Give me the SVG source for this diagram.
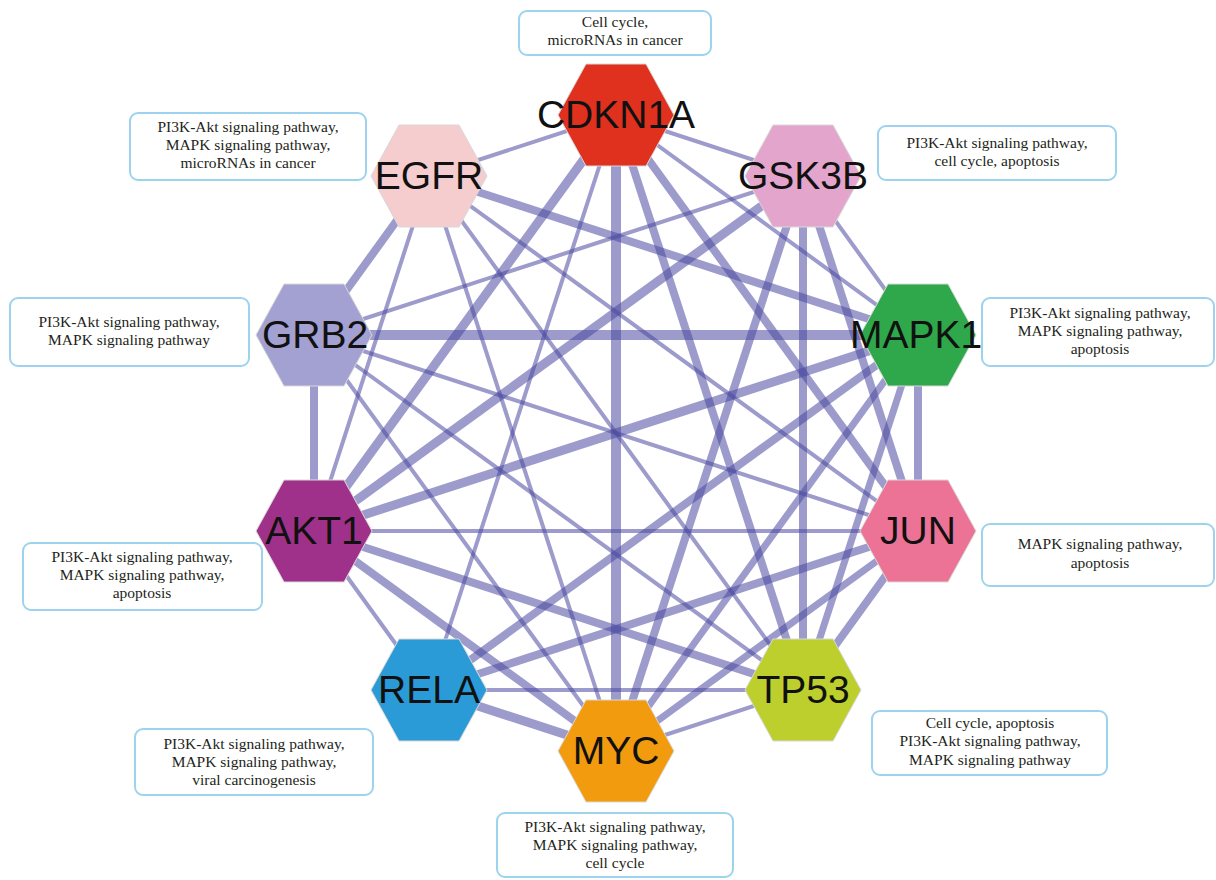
<svg xmlns="http://www.w3.org/2000/svg" width="1216" height="880" viewBox="0 0 1216 880">
<style>
.e{stroke:#4a48a0;stroke-opacity:0.55;fill:none}
.hex{stroke:#d8d8d8;stroke-width:1}
.lbl{font-family:"Liberation Sans",Arial,sans-serif;font-size:39px;fill:#111;text-anchor:middle}
.box{fill:#fff;stroke:#9dd3ec;stroke-width:2}
.bt{font-family:"Liberation Serif","Times New Roman",serif;font-size:15.5px;fill:#231f20;text-anchor:middle}
</style>
<defs>
<polygon id="hx" points="-58,0 -30,-51 30,-51 58,0 30,51 -30,51"/>
</defs>
<rect width="1216" height="880" fill="#fff"/>
<g id="connectors">
<line class="e" x1="616" y1="115" x2="803" y2="176" stroke-width="4"/>
<line class="e" x1="616" y1="115" x2="918" y2="335" stroke-width="4"/>
<line class="e" x1="616" y1="115" x2="918" y2="531" stroke-width="8"/>
<line class="e" x1="616" y1="115" x2="803" y2="690" stroke-width="8"/>
<line class="e" x1="616" y1="115" x2="616" y2="751" stroke-width="10"/>
<line class="e" x1="616" y1="115" x2="429" y2="690" stroke-width="4"/>
<line class="e" x1="616" y1="115" x2="314" y2="531" stroke-width="9"/>
<line class="e" x1="616" y1="115" x2="429" y2="176" stroke-width="4"/>
<line class="e" x1="803" y1="176" x2="918" y2="335" stroke-width="4"/>
<line class="e" x1="803" y1="176" x2="918" y2="531" stroke-width="8"/>
<line class="e" x1="803" y1="176" x2="803" y2="690" stroke-width="8"/>
<line class="e" x1="803" y1="176" x2="616" y2="751" stroke-width="8"/>
<line class="e" x1="803" y1="176" x2="314" y2="531" stroke-width="9"/>
<line class="e" x1="803" y1="176" x2="314" y2="335" stroke-width="4"/>
<line class="e" x1="918" y1="335" x2="918" y2="531" stroke-width="8"/>
<line class="e" x1="918" y1="335" x2="803" y2="690" stroke-width="7"/>
<line class="e" x1="918" y1="335" x2="616" y2="751" stroke-width="7"/>
<line class="e" x1="918" y1="335" x2="429" y2="690" stroke-width="8"/>
<line class="e" x1="918" y1="335" x2="314" y2="531" stroke-width="9"/>
<line class="e" x1="918" y1="335" x2="314" y2="335" stroke-width="10"/>
<line class="e" x1="918" y1="335" x2="429" y2="176" stroke-width="8"/>
<line class="e" x1="918" y1="531" x2="803" y2="690" stroke-width="8"/>
<line class="e" x1="918" y1="531" x2="616" y2="751" stroke-width="7"/>
<line class="e" x1="918" y1="531" x2="429" y2="690" stroke-width="8"/>
<line class="e" x1="918" y1="531" x2="314" y2="531" stroke-width="4"/>
<line class="e" x1="918" y1="531" x2="314" y2="335" stroke-width="4"/>
<line class="e" x1="918" y1="531" x2="429" y2="176" stroke-width="4"/>
<line class="e" x1="803" y1="690" x2="616" y2="751" stroke-width="4"/>
<line class="e" x1="803" y1="690" x2="429" y2="690" stroke-width="4"/>
<line class="e" x1="803" y1="690" x2="314" y2="531" stroke-width="8"/>
<line class="e" x1="803" y1="690" x2="314" y2="335" stroke-width="4"/>
<line class="e" x1="803" y1="690" x2="429" y2="176" stroke-width="4"/>
<line class="e" x1="616" y1="751" x2="429" y2="690" stroke-width="9"/>
<line class="e" x1="616" y1="751" x2="314" y2="531" stroke-width="8"/>
<line class="e" x1="616" y1="751" x2="314" y2="335" stroke-width="4"/>
<line class="e" x1="616" y1="751" x2="429" y2="176" stroke-width="4"/>
<line class="e" x1="429" y1="690" x2="314" y2="531" stroke-width="4"/>
<line class="e" x1="314" y1="531" x2="314" y2="335" stroke-width="8"/>
<line class="e" x1="314" y1="531" x2="429" y2="176" stroke-width="4"/>
<line class="e" x1="314" y1="335" x2="429" y2="176" stroke-width="8"/>
</g>
<g id="node-CDKN1A"><use href="#hx" class="hex" x="616" y="115" fill="#e0301e"/><text class="lbl" x="616" y="128">CDKN1A</text></g>
<g id="node-GSK3B"><use href="#hx" class="hex" x="803" y="176" fill="#e4a5cd"/><text class="lbl" x="803" y="189">GSK3B</text></g>
<g id="node-MAPK1"><use href="#hx" class="hex" x="918" y="335" fill="#2ea84a"/><text class="lbl" x="916" y="348">MAPK1</text></g>
<g id="node-JUN"><use href="#hx" class="hex" x="918" y="531" fill="#ec7395"/><text class="lbl" x="918" y="544">JUN</text></g>
<g id="node-TP53"><use href="#hx" class="hex" x="803" y="690" fill="#bccf2c"/><text class="lbl" x="803" y="703">TP53</text></g>
<g id="node-MYC"><use href="#hx" class="hex" x="616" y="751" fill="#f29b0f"/><text class="lbl" x="616" y="764">MYC</text></g>
<g id="node-RELA"><use href="#hx" class="hex" x="429" y="690" fill="#2a9bd7"/><text class="lbl" x="429" y="703">RELA</text></g>
<g id="node-AKT1"><use href="#hx" class="hex" x="314" y="531" fill="#a0318a"/><text class="lbl" x="314" y="544">AKT1</text></g>
<g id="node-GRB2"><use href="#hx" class="hex" x="314" y="335" fill="#a3a0d2"/><text class="lbl" x="315" y="348">GRB2</text></g>
<g id="node-EGFR"><use href="#hx" class="hex" x="429" y="176" fill="#f5cdce"/><text class="lbl" x="429" y="189">EGFR</text></g>
<g id="note-CDKN1A"><rect class="box" x="519" y="11" width="192" height="44" rx="8"/><text class="bt" x="615" y="27">Cell cycle,</text><text class="bt" x="615" y="45">microRNAs in cancer</text></g>
<g id="note-EGFR"><rect class="box" x="130" y="113" width="236" height="67" rx="8"/><text class="bt" x="248" y="132">PI3K-Akt signaling pathway,</text><text class="bt" x="248" y="150">MAPK signaling pathway,</text><text class="bt" x="248" y="168">microRNAs in cancer</text></g>
<g id="note-GSK3B"><rect class="box" x="878" y="126" width="238" height="54" rx="8"/><text class="bt" x="997" y="148">PI3K-Akt signaling pathway,</text><text class="bt" x="997" y="166">cell cycle, apoptosis</text></g>
<g id="note-MAPK1"><rect class="box" x="982" y="298" width="232" height="68" rx="8"/><text class="bt" x="1100" y="318">PI3K-Akt signaling pathway,</text><text class="bt" x="1100" y="336">MAPK signaling pathway,</text><text class="bt" x="1100" y="354">apoptosis</text></g>
<g id="note-GRB2"><rect class="box" x="10" y="298" width="239" height="68" rx="8"/><text class="bt" x="129" y="327">PI3K-Akt signaling pathway,</text><text class="bt" x="129" y="345">MAPK signaling pathway</text></g>
<g id="note-AKT1"><rect class="box" x="23" y="543" width="239" height="67" rx="8"/><text class="bt" x="142" y="562">PI3K-Akt signaling pathway,</text><text class="bt" x="142" y="580">MAPK signaling pathway,</text><text class="bt" x="142" y="598">apoptosis</text></g>
<g id="note-JUN"><rect class="box" x="982" y="524" width="232" height="62" rx="8"/><text class="bt" x="1100" y="549">MAPK signaling pathway,</text><text class="bt" x="1100" y="568">apoptosis</text></g>
<g id="note-TP53"><rect class="box" x="872" y="711" width="235" height="64" rx="8"/><text class="bt" x="990" y="728">Cell cycle, apoptosis</text><text class="bt" x="990" y="746">PI3K-Akt signaling pathway,</text><text class="bt" x="990" y="765">MAPK signaling pathway</text></g>
<g id="note-MYC"><rect class="box" x="497" y="813" width="236" height="64" rx="8"/><text class="bt" x="615" y="832">PI3K-Akt signaling pathway,</text><text class="bt" x="615" y="850">MAPK signaling pathway,</text><text class="bt" x="615" y="868">cell cycle</text></g>
<g id="note-RELA"><rect class="box" x="135" y="729" width="238" height="66" rx="8"/><text class="bt" x="254" y="749">PI3K-Akt signaling pathway,</text><text class="bt" x="254" y="767">MAPK signaling pathway,</text><text class="bt" x="254" y="785">viral carcinogenesis</text></g>
</svg>
